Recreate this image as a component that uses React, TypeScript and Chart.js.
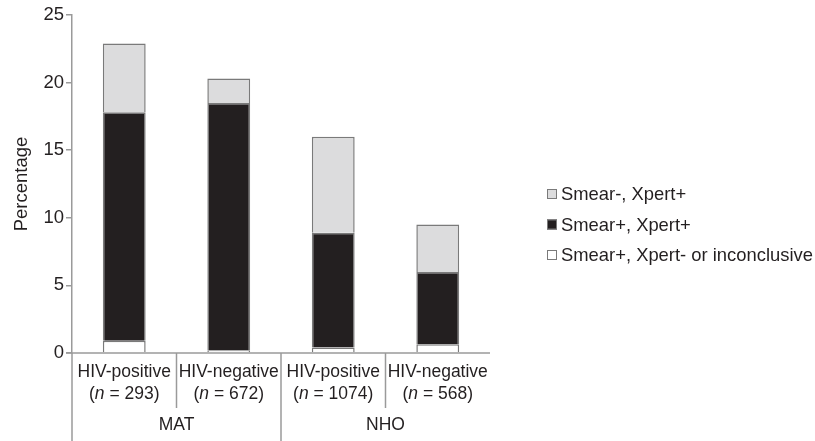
import React, { useEffect, useRef } from "react";
import { Chart, registerables } from "chart.js";

Chart.register(...registerables);

const categories = ["HIV-positive", "HIV-negative", "HIV-positive", "HIV-negative"];
const sampleSizes = ["293", "672", "1074", "568"];
const groups = ["MAT", "NHO"];
const smearPosXpertNeg = [0.9, 0.2, 0.4, 0.65];
const smearPosXpertPos = [16.9, 18.3, 8.5, 5.35];
const smearNegXpertPos = [5.1, 1.8, 7.1, 3.5];
const yTicks = [0, 5, 10, 15, 20, 25];

const FONT = "'Liberation Sans', Arial, sans-serif";
const FS = 17.5;
const LEG_FS = 18.4;
const TICK_FS = 18.5;
const AXIS = "#9a9a9a";
const EDGE = "#7a7a7a";
const TEXT = "#231f20";

const legendItems = [
  { label: "Smear-, Xpert+", color: "#dcdcdd" },
  { label: "Smear+, Xpert+", color: "#231f20" },
  { label: "Smear+, Xpert- or inconclusive", color: "#ffffff" },
];

const customPlugin = {
  id: "custom",
  afterDraw(chart: any) {
    const ctx = chart.ctx;
    const x = chart.scales.x;
    const area = chart.chartArea;
    const n = categories.length;
    const cw = (area.right - area.left) / n;
    const y0 = area.bottom;
    ctx.save();
    ctx.strokeStyle = AXIS;
    ctx.lineWidth = 1.5;
    ctx.beginPath();
    ctx.moveTo(area.left - 6, y0);
    ctx.lineTo(area.right, y0);
    ctx.stroke();
    for (let i = 0; i < n; i++) {
      const lx = x.getPixelForValue(i) - cw / 2;
      const full = i % 2 === 0;
      ctx.beginPath();
      ctx.moveTo(lx, y0);
      ctx.lineTo(lx, full ? 441 : y0 + 55);
      ctx.stroke();
    }
    const normal = `${FS}px ${FONT}`;
    const italic = `italic ${FS}px ${FONT}`;
    ctx.fillStyle = TEXT;
    ctx.textBaseline = "middle";
    for (let i = 0; i < n; i++) {
      const cx = x.getPixelForValue(i);
      ctx.font = normal;
      ctx.textAlign = "center";
      ctx.fillText(categories[i], cx, y0 + 19);
      const p1 = "(";
      const p2 = "n";
      const p3 = " = " + sampleSizes[i] + ")";
      const w1 = ctx.measureText(p1).width;
      const w3 = ctx.measureText(p3).width;
      ctx.font = italic;
      const w2 = ctx.measureText(p2).width;
      let sx = cx - (w1 + w2 + w3) / 2;
      ctx.textAlign = "left";
      ctx.font = normal;
      ctx.fillText(p1, sx, y0 + 41);
      sx += w1;
      ctx.font = italic;
      ctx.fillText(p2, sx, y0 + 41);
      sx += w2;
      ctx.font = normal;
      ctx.fillText(p3, sx, y0 + 41);
    }
    ctx.textAlign = "center";
    ctx.font = normal;
    for (let g = 0; g < groups.length; g++) {
      const gx = (x.getPixelForValue(g * 2) + x.getPixelForValue(g * 2 + 1)) / 2;
      ctx.fillText(groups[g], gx, y0 + 72);
    }
    ctx.textAlign = "left";
    ctx.font = `${LEG_FS}px ${FONT}`;
    legendItems.forEach((it, k) => {
      const ly = 194 + k * 30.5;
      ctx.fillStyle = it.color;
      ctx.fillRect(547, ly - 5, 10, 10);
      ctx.strokeStyle = EDGE;
      ctx.lineWidth = 1;
      ctx.strokeRect(547.5, ly - 4.5, 9, 9);
      ctx.fillStyle = TEXT;
      ctx.fillText(it.label, 561, ly + 1);
    });
    ctx.restore();
  },
};

export default function App() {
  const ref = useRef<HTMLCanvasElement>(null);
  useEffect(() => {
    if (!ref.current) return;
    const chart = new Chart(ref.current, {
      type: "bar",
      data: {
        labels: categories,
        datasets: [
          { label: "Smear+, Xpert- or inconclusive", data: smearPosXpertNeg, backgroundColor: "#ffffff", borderColor: EDGE, borderWidth: 1.5 },
          { label: "Smear+, Xpert+", data: smearPosXpertPos, backgroundColor: "#231f20", borderColor: EDGE, borderWidth: 1.5 },
          { label: "Smear-, Xpert+", data: smearNegXpertPos, backgroundColor: "#dcdcdd", borderColor: EDGE, borderWidth: 1.5 },
        ],
      },
      options: {
        responsive: false,
        animation: false,
        maintainAspectRatio: false,
        layout: { padding: { left: 0, right: 325, top: 15, bottom: 0 } },
        plugins: { legend: { display: false }, tooltip: { enabled: false } },
        datasets: { bar: { categoryPercentage: 1, barPercentage: 0.41 } },
        scales: {
          x: {
            stacked: true,
            grid: { display: false },
            border: { display: false },
            ticks: { display: false },
            afterFit: (s: any) => { s.height = 88; },
          },
          y: {
            stacked: true,
            min: 0,
            max: 25,
            afterBuildTicks: (s: any) => { s.ticks = yTicks.map((v) => ({ value: v })); },
            grid: { drawOnChartArea: false, drawTicks: true, tickLength: 6, color: AXIS, lineWidth: 1.5 },
            border: { display: true, color: AXIS, width: 1.5 },
            ticks: { color: TEXT, font: { family: FONT, size: TICK_FS }, padding: 2 },
            title: { display: true, text: "Percentage", color: TEXT, font: { family: FONT, size: TICK_FS }, padding: { top: 11, bottom: 0 } },
            afterFit: (s: any) => { s.width = 72; },
          },
        },
      },
      plugins: [customPlugin],
    });
    return () => chart.destroy();
  }, []);
  return (
    <div style={{ position: "fixed", left: 0, top: 0, width: 815, height: 441, background: "#fff" }}>
      <canvas ref={ref} width={815} height={441} style={{ width: 815, height: 441 }} />
    </div>
  );
}
